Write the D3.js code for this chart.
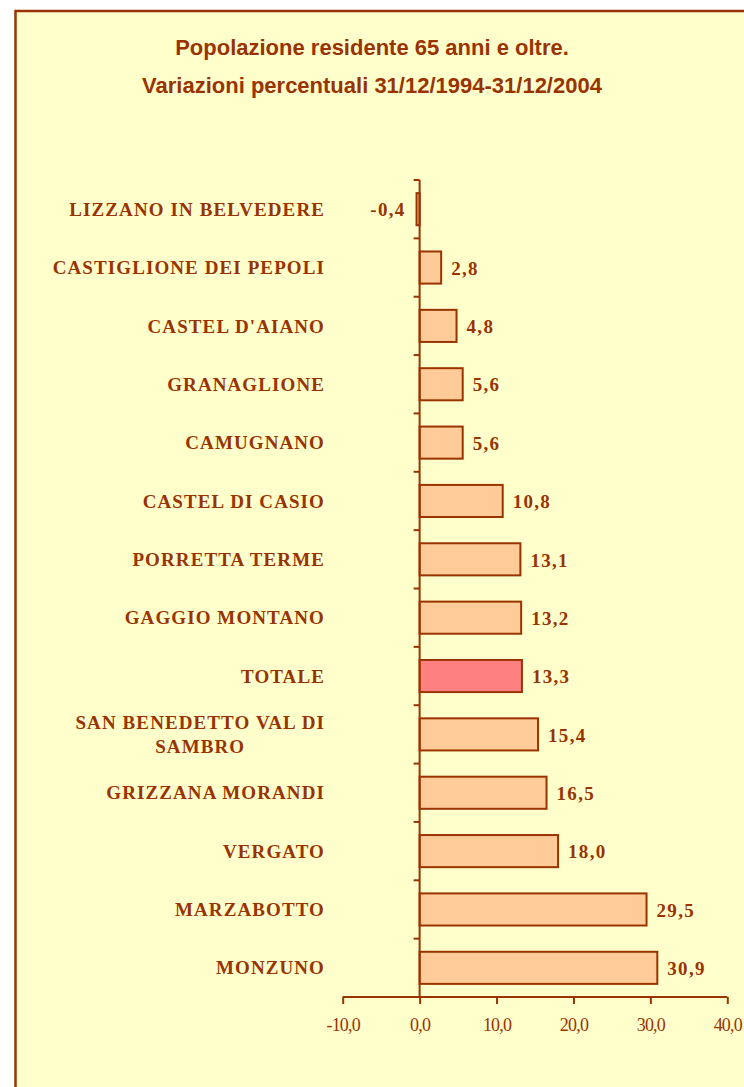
<!DOCTYPE html>
<html>
<head>
<meta charset="utf-8">
<script src="https://cdn.jsdelivr.net/npm/d3@7"></script>
<style>
  html, body { margin: 0; padding: 0; background: #ffffff; }
  svg { display: block; }
</style>
</head>
<body>
<script>
// ---- DATA ----
const titleLines = ["Popolazione residente 65 anni e oltre.", "Variazioni percentuali 31/12/1994-31/12/2004"];
const categories = [
  "LIZZANO IN BELVEDERE",
  "CASTIGLIONE DEI PEPOLI",
  "CASTEL D'AIANO",
  "GRANAGLIONE",
  "CAMUGNANO",
  "CASTEL DI CASIO",
  "PORRETTA TERME",
  "GAGGIO MONTANO",
  "TOTALE",
  "SAN BENEDETTO VAL DI SAMBRO",
  "GRIZZANA MORANDI",
  "VERGATO",
  "MARZABOTTO",
  "MONZUNO"
];
const values = [-0.4, 2.8, 4.8, 5.6, 5.6, 10.8, 13.1, 13.2, 13.3, 15.4, 16.5, 18.0, 29.5, 30.9];
const highlight = "TOTALE";
const xTicks = [-10, 0, 10, 20, 30, 40];

// ---- STYLE ----
const W = 744, H = 1087;
const dark = "#993300";
const bg = "#FFFFCC";
const barFill = "#FFCC99";
const hiFill = "#FF8080";
const serif = "'Liberation Serif', 'Times New Roman', serif";
const sans = "'Liberation Sans', Arial, sans-serif";
const fmt = v => v.toFixed(1).replace(".", ",");

const svg = d3.select("body").append("svg").attr("width", W).attr("height", H);

svg.append("rect").attr("x", 15.5).attr("y", 11).attr("width", W + 20).attr("height", H + 20)
  .attr("fill", bg).attr("stroke", dark).attr("stroke-width", 2.5);

// Title
svg.append("g").selectAll("text").data(titleLines).join("text")
  .attr("x", 372).attr("y", (d, i) => 55 + i * 38)
  .attr("text-anchor", "middle")
  .attr("font-family", sans).attr("font-weight", "bold").attr("font-size", 22)
  .attr("fill", dark).text(d => d);

// Scales
const x = d3.scaleLinear().domain([-10, 40]).range([342.7, 727.3]);
const y = d3.scaleBand().domain(categories).range([180, 997]).paddingInner(0.45).paddingOuter(0.225);

// Bars
svg.append("g").selectAll("rect").data(values).join("rect")
  .attr("x", d => x(Math.min(0, d)))
  .attr("y", (d, i) => y(categories[i]))
  .attr("width", d => Math.abs(x(d) - x(0)))
  .attr("height", y.bandwidth())
  .attr("fill", (d, i) => categories[i] === highlight ? hiFill : barFill)
  .attr("stroke", dark).attr("stroke-width", 2);

// Y axis line and boundary ticks
const yAxis = svg.append("g");
yAxis.append("line").attr("x1", x(0)).attr("x2", x(0)).attr("y1", y.range()[0]).attr("y2", y.range()[1])
  .attr("stroke", dark).attr("stroke-width", 2);
yAxis.selectAll("line.tk").data(d3.range(categories.length + 1)).join("line").attr("class", "tk")
  .attr("x1", x(0) - 6).attr("x2", x(0))
  .attr("y1", i => y.range()[0] + i * y.step()).attr("y2", i => y.range()[0] + i * y.step())
  .attr("stroke", dark).attr("stroke-width", 2);

// X axis
const xAxisG = svg.append("g").attr("transform", `translate(0,${y.range()[1]})`)
  .call(d3.axisBottom(x).tickValues(xTicks).tickSize(7).tickSizeOuter(0).tickPadding(14).tickFormat(fmt));
xAxisG.select(".domain").attr("stroke", dark).attr("stroke-width", 2).attr("d", `M${x(-10)},0H${x(40)}`);
xAxisG.selectAll(".tick line").attr("stroke", dark).attr("stroke-width", 2);
xAxisG.selectAll(".tick text").attr("fill", dark).attr("font-family", serif).attr("font-size", 18)
  .attr("letter-spacing", -0.8);

// Category labels
const labelRight = 325;
const maxW = 300;
const catG = svg.append("g");
categories.forEach((c, i) => {
  const cy = y(c) + y.bandwidth() / 2;
  const t = catG.append("text")
    .attr("font-family", serif).attr("font-weight", "bold").attr("font-size", 19)
    .attr("letter-spacing", 1.1).attr("fill", dark);
  t.text(c);
  const w = t.node().getComputedTextLength();
  if (w <= maxW) {
    t.attr("x", labelRight).attr("y", cy).attr("dy", "0.35em").attr("text-anchor", "end");
  } else {
    // greedy word wrap
    const words = c.split(" ");
    const lines = [];
    let cur = "";
    t.text("");
    words.forEach(wd => {
      const test = cur ? cur + " " + wd : wd;
      t.text(test);
      if (t.node().getComputedTextLength() > maxW && cur) { lines.push(cur); cur = wd; }
      else cur = test;
    });
    lines.push(cur);
    t.text("");
    const widths = lines.map(l => { t.text(l); return t.node().getComputedTextLength(); });
    t.text("");
    const blockW = d3.max(widths);
    const cx = labelRight - blockW / 2;
    const lh = 24;
    lines.forEach((l, k) => {
      t.append("tspan").attr("x", cx).attr("text-anchor", "middle")
        .attr("y", cy + (k - (lines.length - 1) / 2) * lh).attr("dy", "0.35em").text(l);
    });
  }
});

// Value labels
svg.append("g").selectAll("text").data(values).join("text")
  .attr("x", d => d >= 0 ? x(d) + 10 : x(d) - 11)
  .attr("y", (d, i) => y(categories[i]) + y.bandwidth() / 2)
  .attr("dy", "0.38em")
  .attr("text-anchor", d => d >= 0 ? "start" : "end")
  .attr("font-family", serif).attr("font-weight", "bold").attr("font-size", 19)
  .attr("letter-spacing", 1.3).attr("fill", dark)
  .text(fmt);
</script>
</body>
</html>
